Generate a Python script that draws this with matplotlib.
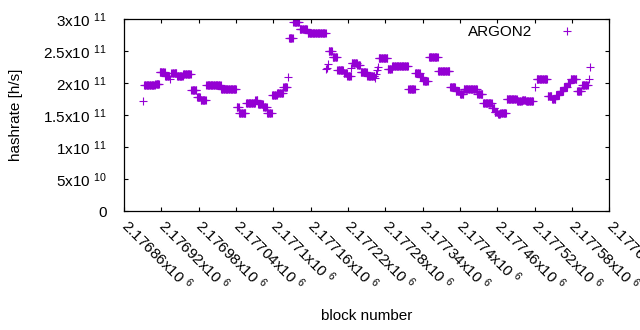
import numpy as np
import matplotlib
matplotlib.use("Agg")
from matplotlib import pyplot as plt
from matplotlib.ticker import FuncFormatter, MultipleLocator

plt.rcParams['font.family'] = ['Liberation Sans', 'DejaVu Sans']
plt.rcParams['mathtext.default'] = 'regular'

# hashrate runs: first block, last block, value (x1e11)
seg_start = [2176890, 2176892, 2176910, 2176917, 2176926, 2176933, 2176936, 2176945, 2176955, 2176968,
             2176977, 2176983, 2176992, 2177016, 2177041, 2177045, 2177056, 2177071, 2177075, 2177084,
             2177090, 2177098, 2177106, 2177116, 2177124, 2177125, 2177132, 2177142, 2177155, 2177185,
             2177186, 2177188, 2177189, 2177195, 2177203, 2177213, 2177219, 2177225, 2177226, 2177235,
             2177240, 2177251, 2177263, 2177265, 2177267, 2177268, 2177269, 2177284, 2177291, 2177317,
             2177328, 2177336, 2177341, 2177350, 2177365, 2177384, 2177393, 2177400, 2177406, 2177428,
             2177437, 2177452, 2177456, 2177461, 2177465, 2177475, 2177492, 2177500, 2177506, 2177520,
             2177523, 2177541, 2177548, 2177555, 2177560, 2177567, 2177573, 2177578, 2177588, 2177596,
             2177607, 2177609]
seg_end = [2176890, 2176909, 2176916, 2176925, 2176932, 2176933, 2176944, 2176954, 2176967, 2176976,
           2176982, 2176991, 2177015, 2177040, 2177044, 2177055, 2177070, 2177074, 2177083, 2177089,
           2177097, 2177105, 2177115, 2177122, 2177124, 2177131, 2177141, 2177154, 2177184, 2177185,
           2177186, 2177188, 2177194, 2177202, 2177212, 2177218, 2177224, 2177225, 2177234, 2177239,
           2177250, 2177262, 2177263, 2177265, 2177267, 2177268, 2177283, 2177290, 2177316, 2177327,
           2177335, 2177340, 2177348, 2177364, 2177383, 2177392, 2177399, 2177405, 2177427, 2177436,
           2177451, 2177455, 2177460, 2177464, 2177474, 2177491, 2177499, 2177505, 2177517, 2177520,
           2177540, 2177547, 2177553, 2177559, 2177566, 2177572, 2177577, 2177587, 2177595, 2177605,
           2177607, 2177609]
seg_value = [1.72, 1.97, 1.99, 2.17, 2.11, 2.07, 2.165, 2.11, 2.14, 1.89,
             1.78, 1.74, 1.97, 1.905, 1.62, 1.53, 1.686, 1.737, 1.675, 1.62,
             1.53, 1.815, 1.84, 1.935, 2.09, 2.70, 2.95, 2.84, 2.78, 2.22,
             2.24, 2.30, 2.51, 2.415, 2.205, 2.165, 2.12, 2.235, 2.32, 2.285,
             2.18, 2.11, 2.08, 2.14, 2.20, 2.26, 2.39, 2.22, 2.27, 1.905,
             2.155, 2.10, 2.035, 2.405, 2.19, 1.935, 1.88, 1.83, 1.905, 1.83,
             1.695, 1.61, 1.555, 1.51, 1.53, 1.75, 1.715, 1.737, 1.715, 1.945,
             2.06, 1.80, 1.75, 1.815, 1.88, 1.935, 2.00, 2.06, 1.88, 1.97,
             2.06, 2.25]

blocks = np.concatenate([np.arange(s, e + 1) for s, e in zip(seg_start, seg_end)])
hashrate = np.repeat(np.array(seg_value) * 1e11,
                     [e - s + 1 for s, e in zip(seg_start, seg_end)])

fs = 11
fig = plt.figure(figsize=(6.4, 3.3), dpi=100)
ax = fig.add_axes([0.194, 0.3606, 0.758, 0.581])

ax.plot(blocks, hashrate, linestyle='none', marker='+', color='#9400d3',
        markersize=5.2, markeredgewidth=0.8, label='ARGON2')

ax.set_xlim(2176860, 2177640)
ax.set_ylim(0, 3e11)
ax.xaxis.set_major_locator(MultipleLocator(60))
ax.yaxis.set_major_locator(MultipleLocator(5e10))


def xfmt(v, pos):
    return f"{v / 1e6:g}x10 $^{{6}}$"


def yfmt(v, pos):
    if v <= 0:
        return "0"
    e = int(np.floor(np.log10(v) + 1e-9))
    return f"{v / 10**e:g}x10 $^{{{e}}}$"


ax.xaxis.set_major_formatter(FuncFormatter(xfmt))
ax.yaxis.set_major_formatter(FuncFormatter(yfmt))
ax.tick_params(direction='in', length=3, width=0.8, top=True, right=True,
               labelsize=fs, colors='black')
ax.tick_params(axis='y', pad=12.5)
ax.tick_params(axis='x', pad=8)
for lab in ax.get_xticklabels():
    lab.set_rotation(-45)
    lab.set_rotation_mode('anchor')
    lab.set_ha('left')
    lab.set_va('center')

for sp in ax.spines.values():
    sp.set_linewidth(0.9)

ax.set_xlabel('block number', fontsize=fs)
ax.set_ylabel('hashrate [h/s]', fontsize=fs)
ax.xaxis.set_label_coords(0.5, -0.51)
ax.yaxis.set_label_coords(-0.209, 0.5)

ax.legend(loc='upper right', frameon=False, markerfirst=False, fontsize=fs,
          handlelength=1.5, handletextpad=1.55, borderaxespad=0,
          bbox_to_anchor=(0.949, 1.0))

fig.savefig('out.png', dpi=100)
